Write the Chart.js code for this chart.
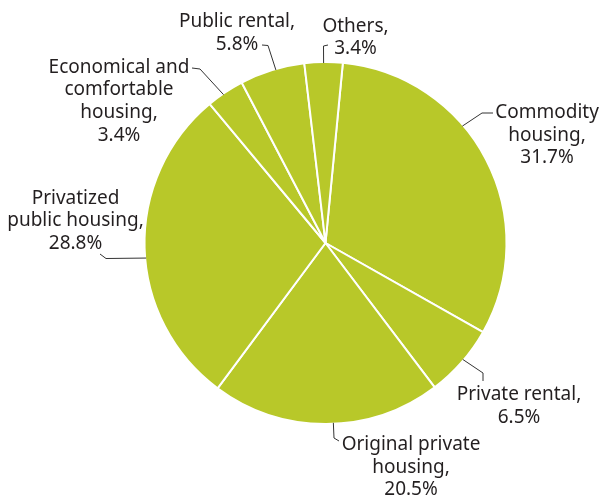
<!DOCTYPE html>
<html>
<head>
<meta charset="utf-8">
<script src="https://cdn.jsdelivr.net/npm/chart.js@4/dist/chart.umd.min.js"></script>
<style>
  html, body { margin: 0; padding: 0; background: #ffffff; }
  canvas { display: block; }
</style>
</head>
<body>
<canvas id="chart" width="601" height="500"></canvas>
<script>
// Housing tenure shares (%)
const categories = [
  'Commodity housing',
  'Private rental',
  'Original private housing',
  'Privatized public housing',
  'Economical and comfortable housing',
  'Public rental',
  'Others'
];
const shares = [31.7, 6.5, 20.5, 28.8, 3.4, 5.8, 3.4];
// Text lines of each outside label (value line is appended from shares)
const labelLines = [
  ['Commodity', 'housing,'],
  ['Private rental,'],
  ['Original private', 'housing,'],
  ['Privatized', 'public housing,'],
  ['Economical and', 'comfortable', 'housing,'],
  ['Public rental,'],
  ['Others,']
];

// Placement of the labels: text centre x, first baseline y,
// leader polyline from the text, and the angle (deg, clockwise from 12 o'clock)
// where the leader meets the pie rim.
const labelLayout = [
  { x: 547,   y: 118,   path: [[493, 113], [482, 113]], rim: 49.5 },
  { x: 519,   y: 400,   path: [[483, 381], [483, 373]], rim: 130.3 },
  { x: 411,   y: 450,   path: [[339, 441], [334, 438]], rim: 177.5 },
  { x: 75.5,  y: 203.5, path: [[100, 254], [106, 258.5]], rim: 265.2 },
  { x: 119,   y: 72.7,  path: [[192, 68], [200, 69]], rim: 325.5 },
  { x: 237,   y: 27,    path: [[262, 45], [268, 45.5]], rim: 344.0 },
  { x: 355.5, y: 31.5,  path: [[328, 45], [323.5, 46]], rim: 359.4 }
];

const FONT = '19px "Noto Sans", "Open Sans", sans-serif';
const TEXT_COLOR = '#231f20';
const LINE_PITCH = 22.6;

const outsideLabels = {
  id: 'outsideLabels',
  afterDatasetsDraw(chart) {
    const ctx = chart.ctx;
    const arc = chart.getDatasetMeta(0).data[0];
    const cx = arc.x, cy = arc.y, r = arc.outerRadius - 1;
    ctx.save();
    // leader lines
    ctx.strokeStyle = '#333333';
    ctx.lineWidth = 1;
    labelLayout.forEach((lay) => {
      const a = lay.rim * Math.PI / 180;
      const ex = cx + r * Math.sin(a);
      const ey = cy - r * Math.cos(a);
      ctx.beginPath();
      ctx.moveTo(lay.path[0][0], lay.path[0][1]);
      for (let k = 1; k < lay.path.length; k++) ctx.lineTo(lay.path[k][0], lay.path[k][1]);
      ctx.lineTo(ex, ey);
      ctx.stroke();
    });
    // label text
    ctx.font = FONT;
    ctx.fillStyle = TEXT_COLOR;
    ctx.textAlign = 'center';
    ctx.textBaseline = 'alphabetic';
    labelLayout.forEach((lay, i) => {
      const lines = labelLines[i].concat([shares[i].toFixed(1) + '%']);
      lines.forEach((t, j) => ctx.fillText(t, lay.x, lay.y + j * LINE_PITCH));
    });
    ctx.restore();
  }
};

new Chart(document.getElementById('chart'), {
  type: 'pie',
  data: {
    labels: categories,
    datasets: [{
      data: shares,
      backgroundColor: '#b8c829',
      borderColor: '#ffffff',
      borderWidth: 2
    }]
  },
  options: {
    responsive: false,
    animation: false,
    events: [],
    rotation: 5.5,
    radius: 181,
    layout: { padding: { left: 50, right: 0, top: 0, bottom: 14 } },
    plugins: {
      legend: { display: false },
      tooltip: { enabled: false },
      title: { display: false }
    }
  },
  plugins: [outsideLabels]
});
</script>
</body>
</html>
